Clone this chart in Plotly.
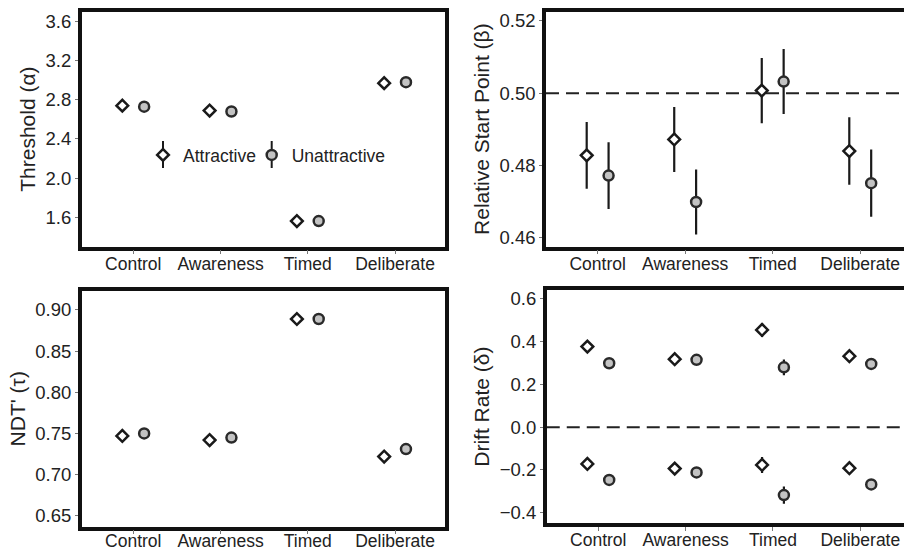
import plotly.graph_objects as go

# ---------------- data ----------------
conditions = ["Control", "Awareness", "Timed", "Deliberate"]

threshold_attr = [2.74, 2.69, 1.56, 2.97]
threshold_unattr = [2.73, 2.68, 1.56, 2.98]

start_attr = [0.4828, 0.4872, 0.5007, 0.4840]
start_attr_err = [0.0092, 0.0090, 0.0090, 0.0093]
start_unattr = [0.4772, 0.4699, 0.5032, 0.4751]
start_unattr_err = [0.0092, 0.0090, 0.0090, 0.0093]

ndt_attr = [0.747, 0.742, 0.889, 0.722]
ndt_unattr = [0.750, 0.745, 0.889, 0.731]

drift_upper_attr = [0.377, 0.318, 0.455, 0.332]
drift_upper_attr_err = [0.015, 0.015, 0.033, 0.015]
drift_upper_unattr = [0.299, 0.315, 0.280, 0.296]
drift_upper_unattr_err = [0.015, 0.015, 0.037, 0.015]
drift_lower_attr = [-0.172, -0.194, -0.177, -0.192]
drift_lower_attr_err = [0.015, 0.015, 0.037, 0.015]
drift_lower_unattr = [-0.247, -0.212, -0.318, -0.268]
drift_lower_unattr_err = [0.015, 0.015, 0.040, 0.015]

start_reference = 0.5
drift_reference = 0.0

threshold_ticks = [1.6, 2.0, 2.4, 2.8, 3.2, 3.6]
start_ticks = [0.46, 0.48, 0.50, 0.52]
ndt_ticks = [0.65, 0.70, 0.75, 0.80, 0.85, 0.90]
drift_ticks = [-0.4, -0.2, 0.0, 0.2, 0.4, 0.6]

# ---------------- styling ----------------
W, H = 904, 550
FONT = "Liberation Sans, Arial, sans-serif"
FS_X = 17.5
FS_Y = 18.5
FS_T = 21
TXT = "#222222"
DODGE = 0.125
pos = list(range(1, len(conditions) + 1))
x_attr = [p - DODGE for p in pos]
x_unattr = [p + DODGE for p in pos]

attr_marker = dict(symbol="diamond", size=9, color="white",
                   line=dict(color="#1a1a1a", width=2.5))
unattr_marker = dict(symbol="circle", size=10, color="#c3c3c3",
                     line=dict(color="#2a2a2a", width=2.5))


def err(vals):
    return dict(type="data", array=vals, visible=True, color="#1a1a1a",
                thickness=2.2, width=0)


fig = go.Figure()


def add(x, y, marker, xa, ya, name, legend=None, e=None):
    fig.add_trace(go.Scatter(
        x=x, y=y, mode="markers", marker=marker, name=name,
        xaxis=xa, yaxis=ya, showlegend=legend is not None,
        legend=legend if legend is not None else "legend",
        error_y=err(e) if e is not None else None,
        hoverinfo="skip"))


# panel 1: threshold
add(x_attr, threshold_attr, attr_marker, "x", "y", "Attractive", legend="legend")
add(x_unattr, threshold_unattr, unattr_marker, "x", "y", "Unattractive", legend="legend2")
# panel 2: start point
add(x_attr, start_attr, attr_marker, "x2", "y2", "Attractive", e=start_attr_err)
add(x_unattr, start_unattr, unattr_marker, "x2", "y2", "Unattractive", e=start_unattr_err)
# panel 3: NDT
add(x_attr, ndt_attr, attr_marker, "x3", "y3", "Attractive")
add(x_unattr, ndt_unattr, unattr_marker, "x3", "y3", "Unattractive")
# panel 4: drift
add(x_attr, drift_upper_attr, attr_marker, "x4", "y4", "Attractive", e=drift_upper_attr_err)
add(x_unattr, drift_upper_unattr, unattr_marker, "x4", "y4", "Unattractive", e=drift_upper_unattr_err)
add(x_attr, drift_lower_attr, attr_marker, "x4", "y4", "Attractive", e=drift_lower_attr_err)
add(x_unattr, drift_lower_unattr, unattr_marker, "x4", "y4", "Unattractive", e=drift_lower_unattr_err)


def px_x(a, b):
    return [a / W, min(b / W, 1.0)]


def px_y(top, bottom):
    return [1 - bottom / H, 1 - top / H]


def xaxis(domain, rng, anchor, standoff=-5):
    return dict(domain=domain, range=rng, anchor=anchor,
                tickvals=pos, ticktext=conditions,
                showline=True, linecolor="#111111", linewidth=3.5, mirror=True,
                ticks="outside", ticklen=4, tickwidth=1.2, tickcolor="#777777",
                ticklabelstandoff=standoff,
                showgrid=False, zeroline=False, automargin=False,
                tickfont=dict(family=FONT, size=FS_X, color=TXT))


def yaxis(domain, rng, anchor, ticks, fmt, title, mirror):
    return dict(domain=domain, range=rng, anchor=anchor,
                tickvals=ticks, tickformat=fmt,
                showline=True, linecolor="#111111", linewidth=3.5, mirror=mirror,
                ticks="outside", ticklen=3, tickwidth=1.2, tickcolor="#777777",
                showgrid=False, zeroline=False, automargin=False,
                tickfont=dict(family=FONT, size=FS_Y, color=TXT),
                title=dict(text=title, font=dict(family=FONT, size=FS_T, color=TXT),
                           standoff=5))


legend_common = dict(orientation="h", xanchor="left", yanchor="middle",
                     y=1 - 155 / H, bgcolor="rgba(0,0,0,0)",
                     font=dict(family=FONT, size=FS_X, color=TXT))

fig.update_layout(
    width=W, height=H,
    margin=dict(l=0, r=0, t=0, b=0),
    paper_bgcolor="white", plot_bgcolor="white",
    font=dict(family=FONT, size=FS_X, color=TXT),
    xaxis=xaxis(px_x(81.75, 445.25), [0.41, 4.575], "y"),
    yaxis=yaxis(px_y(11.75, 246.5), [1.30, 3.70], "x", threshold_ticks, ".1f",
                "Threshold (α)", True),
    xaxis2=xaxis(px_x(546, 904), [0.41, 4.50], "y2"),
    yaxis2=yaxis(px_y(11.75, 246.5), [0.4576, 0.5225], "x2", start_ticks, ".2f",
                 "Relative Start Point (β)", False),
    xaxis3=xaxis(px_x(81.75, 445.25), [0.41, 4.575], "y3", standoff=-8),
    yaxis3=yaxis(px_y(291, 526.5), [0.637, 0.923], "x3", ndt_ticks, ".2f",
                 "NDT' (τ)", True),
    xaxis4=xaxis(px_x(546.75, 904), [0.41, 4.50], "y4", standoff=-6),
    yaxis4=yaxis(px_y(290, 523.3), [-0.45, 0.642], "x4", drift_ticks, ".1f",
                 "Drift Rate (δ)", False),
    legend=dict(x=143 / W, **legend_common),
    legend2=dict(x=251.7 / W, **legend_common),
    showlegend=True,
)

# vertical whiskers on the legend symbols
for sx in (163, 271.7):
    fig.add_shape(type="line", xref="paper", yref="paper",
                  x0=sx / W, x1=sx / W, y0=1 - 141 / H, y1=1 - 168 / H,
                  line=dict(color="#1a1a1a", width=2))

dash = "13px,7px"
fig.add_shape(type="line", xref="x2 domain", yref="y2", x0=0, x1=1,
              y0=start_reference, y1=start_reference, layer="below",
              line=dict(color="#222222", width=2, dash=dash))
fig.add_shape(type="line", xref="x4 domain", yref="y4", x0=0, x1=1,
              y0=drift_reference, y1=drift_reference, layer="below",
              line=dict(color="#222222", width=2, dash=dash))

fig.write_html("out.html",
               config={"displayModeBar": False},
               post_script="document.body.style.margin='0px';"
                           "document.body.style.overflow='hidden';")
